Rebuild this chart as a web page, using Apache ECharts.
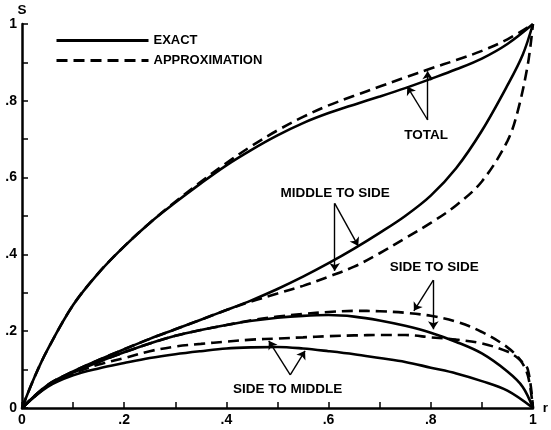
<!DOCTYPE html>
<html>
<head>
<meta charset="utf-8">
<script src="https://cdn.jsdelivr.net/npm/echarts@6/dist/echarts.min.js"></script>
<style>
html,body{margin:0;padding:0;background:#fff;}
#chart{width:551px;height:430px;}
</style>
</head>
<body>
<div id="chart"></div>
<script>
// ---- data (r, S) ----
const totalExactR = [0,0.025,0.05,0.1,0.15,0.2,0.25,0.3,0.35,0.4,0.45,0.5,0.55,0.6,0.65,0.7,0.75,0.8,0.85,0.9,0.95,1];
const totalExactS = [0,0.082,0.152,0.268,0.352,0.421,0.482,0.535,0.585,0.632,0.673,0.71,0.742,0.768,0.79,0.811,0.833,0.857,0.882,0.91,0.948,1];

const totalApproxR = [0,0.025,0.05,0.1,0.15,0.2,0.25,0.3,0.35,0.4,0.45,0.5,0.55,0.6,0.65,0.7,0.75,0.8,0.85,0.9,0.95,1];
const totalApproxS = [0,0.082,0.152,0.268,0.352,0.421,0.482,0.537,0.589,0.638,0.683,0.723,0.758,0.788,0.813,0.837,0.861,0.884,0.906,0.93,0.96,1];

const midSideExactR = [0,0.05,0.1,0.15,0.2,0.25,0.3,0.35,0.4,0.45,0.5,0.55,0.6,0.65,0.7,0.75,0.8,0.85,0.9,0.95,0.98,1];
const midSideExactS = [0,0.06,0.095,0.125,0.153,0.18,0.205,0.23,0.255,0.281,0.31,0.342,0.377,0.415,0.456,0.5,0.553,0.625,0.722,0.84,0.92,1];

const midSideApproxR = [0,0.05,0.1,0.15,0.2,0.25,0.3,0.35,0.4,0.45,0.5,0.55,0.6,0.65,0.7,0.75,0.8,0.85,0.9,0.95,0.97,0.99,1];
const midSideApproxS = [0,0.06,0.095,0.125,0.153,0.18,0.205,0.23,0.255,0.278,0.298,0.318,0.342,0.368,0.403,0.442,0.482,0.528,0.59,0.695,0.772,0.895,1];

const sideSideExactR = [0,0.05,0.1,0.15,0.2,0.25,0.3,0.35,0.4,0.45,0.5,0.55,0.6,0.65,0.7,0.75,0.8,0.85,0.9,0.95,0.98,1];
const sideSideExactS = [0,0.058,0.092,0.12,0.145,0.168,0.188,0.203,0.216,0.227,0.235,0.24,0.242,0.238,0.228,0.214,0.196,0.172,0.142,0.095,0.055,0];

const sideSideApproxR = [0,0.05,0.1,0.15,0.2,0.25,0.3,0.35,0.4,0.45,0.5,0.55,0.6,0.65,0.7,0.75,0.8,0.85,0.9,0.95,0.975,0.99,1];
const sideSideApproxS = [0,0.058,0.092,0.12,0.145,0.168,0.188,0.203,0.216,0.229,0.238,0.245,0.25,0.253,0.252,0.248,0.24,0.225,0.198,0.158,0.125,0.085,0];

const sideMidExactR = [0,0.05,0.1,0.15,0.2,0.25,0.3,0.35,0.4,0.45,0.5,0.55,0.6,0.65,0.7,0.75,0.8,0.85,0.9,0.95,1];
const sideMidExactS = [0,0.055,0.085,0.103,0.117,0.13,0.14,0.148,0.155,0.158,0.159,0.155,0.148,0.14,0.13,0.12,0.105,0.09,0.07,0.045,0];

const sideMidApproxR = [0,0.05,0.1,0.15,0.2,0.25,0.3,0.35,0.4,0.45,0.5,0.55,0.6,0.65,0.7,0.75,0.8,0.85,0.9,0.95,0.975,0.99,1];
const sideMidApproxS = [0,0.057,0.09,0.113,0.13,0.148,0.16,0.167,0.173,0.178,0.181,0.184,0.187,0.189,0.19,0.19,0.184,0.178,0.168,0.147,0.125,0.1,0];

const xTicks = ['0','.2','.4','.6','.8','1'];
const yTicks = ['0','.2','.4','.6','.8','1'];
const legendNames = ['EXACT','APPROXIMATION'];

// ---- build ----
function pairs(r, s){ return r.map((v,i)=>[v, s[i]]); }
function tickLabel(v, labels){
  const k = Math.round(v*10);
  return (k % 2 === 0) ? labels[k/2] : '';
}
const FONT = 'Liberation Sans, Arial, Helvetica, sans-serif';
const solid = {color:'#000', width:2.6, type:'solid'};
const dashed = {color:'#000', width:2.6, type:[11,6]};

function lineSeries(name, data, style, extra){
  return Object.assign({
    name: name, type:'line', data: data, showSymbol:false, symbol:'none',
    smooth:0.35, lineStyle: style, itemStyle:{color:'#000'}, silent:true,
    emphasis:{disabled:true}
  }, extra||{});
}

const arrows = [
  [[0.794,0.75],[0.754,0.837]],
  [[0.794,0.75],[0.794,0.877]],
  [[0.612,0.533],[0.612,0.357]],
  [[0.612,0.533],[0.658,0.422]],
  [[0.805,0.333],[0.767,0.253]],
  [[0.805,0.333],[0.805,0.205]],
  [[0.525,0.086],[0.483,0.175]],
  [[0.525,0.086],[0.554,0.149]]
];
const labels = [
  {name:'TOTAL', coord:[0.791,0.711]},
  {name:'MIDDLE TO SIDE', coord:[0.613,0.560]},
  {name:'SIDE TO SIDE', coord:[0.807,0.367]},
  {name:'SIDE TO MIDDLE', coord:[0.52,0.049]}
];

const txt = {color:'#000', fontSize:13.5, fontWeight:'bold', fontFamily:FONT};

const chart = echarts.init(document.getElementById('chart'), null, {renderer:'canvas'});
chart.setOption({
  animation:false,
  backgroundColor:'#fff',
  grid:{left:22, right:12, top:24, bottom:22, containLabel:false},
  legend:{
    data: legendNames, orient:'vertical', left:55, top:34, padding:0,
    itemWidth:92, itemHeight:14, itemGap:7,
    itemStyle:{opacity:0, color:'rgba(0,0,0,0)', borderWidth:0},
    lineStyle:{width:3},
    textStyle:Object.assign({}, txt, {fontSize:13}), selectedMode:false
  },
  xAxis:{
    type:'value', min:0, max:1, interval:0.1,
    name:'r', nameLocation:'end', nameGap:8,
    nameTextStyle:Object.assign({}, txt, {verticalAlign:'middle', align:'left'}),
    axisLine:{show:true, onZero:false, lineStyle:{color:'#000', width:2.5}},
    axisTick:{show:true, inside:true, length:6, lineStyle:{color:'#000', width:1.5}},
    axisLabel:Object.assign({}, txt, {fontSize:14, margin:5, formatter:v=>tickLabel(v,xTicks)}),
    splitLine:{show:false}
  },
  yAxis:{
    type:'value', min:0, max:1, interval:0.1,
    name:'S', nameLocation:'end', nameGap:6,
    nameTextStyle:Object.assign({}, txt, {align:'center'}),
    axisLine:{show:true, onZero:false, lineStyle:{color:'#000', width:2.5}},
    axisTick:{show:true, inside:true, length:6, lineStyle:{color:'#000', width:1.5}},
    axisLabel:Object.assign({}, txt, {fontSize:14, margin:5, formatter:v=>tickLabel(v,yTicks)}),
    splitLine:{show:false}
  },
  series:[
    lineSeries('EXACT', pairs(totalExactR,totalExactS), solid, {
      markLine:{
        silent:true, symbol:['none','arrow'], symbolSize:8, precision:3,
        label:{show:false},
        lineStyle:{color:'#000', width:1.4, type:'solid'},
        emphasis:{disabled:true},
        data: arrows.map(a=>[{coord:a[0]},{coord:a[1]}])
      },
      markPoint:{
        silent:true, symbol:'circle', symbolSize:1, itemStyle:{color:'rgba(0,0,0,0)'},
        label:Object.assign({show:true, position:'inside', formatter:'{b}'}, txt),
        data: labels.map(l=>({name:l.name, coord:l.coord}))
      }
    }),
    lineSeries('APPROXIMATION', pairs(totalApproxR,totalApproxS), dashed),
    lineSeries('EXACT', pairs(midSideExactR,midSideExactS), solid),
    lineSeries('APPROXIMATION', pairs(midSideApproxR,midSideApproxS), dashed),
    lineSeries('EXACT', pairs(sideSideExactR,sideSideExactS), solid),
    lineSeries('APPROXIMATION', pairs(sideSideApproxR,sideSideApproxS), dashed),
    lineSeries('EXACT', pairs(sideMidExactR,sideMidExactS), solid),
    lineSeries('APPROXIMATION', pairs(sideMidApproxR,sideMidApproxS), dashed)
  ]
});
</script>
</body>
</html>
